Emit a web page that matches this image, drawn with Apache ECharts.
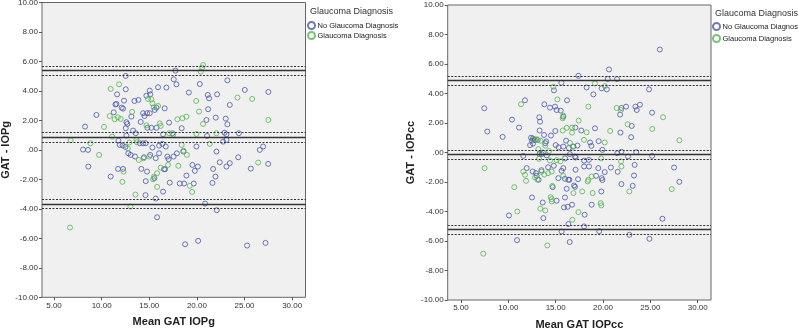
<!DOCTYPE html>
<html>
<head>
<meta charset="utf-8">
<script src="https://cdn.jsdelivr.net/npm/echarts@6/dist/echarts.min.js"></script>
<style>html,body{margin:0;padding:0;background:#fff}#c{width:798px;height:329px}</style>
</head>
<body>
<div id="c"></div>
<script>
// ---------- DATA ----------
const seriesNames = ['No Glaucoma Diagnosis', 'Glaucoma Diagnosis'];
const xTickValues = [5, 10, 15, 20, 25, 30];

// Left panel: GAT - IOPg vs Mean GAT IOPg
const leftNoGlaucoma = [
[8.26,1.58],[8.05,0.02],[8.57,0.0],[9.45,2.37],[8.6,-1.13],
[11.27,2.55],[11.55,3.12],[11.45,3.08],[11.62,3.77],[12.35,3.34],[12.1,2.87],[12.25,2.8],[12.53,4.11],[12.53,5.02],
[12.6,1.88],[12.7,1.76],[12.53,1.47],[13.12,2.26],[13.44,3.32],[13.86,3.39],
[12.6,0.97],[11.76,0.63],[11.9,0.34],[12.2,0.3],[12.5,0.2],[13.3,1.31],[13.58,1.13],[14.0,0.45],[14.35,0.45],
[12.8,-0.23],[13.05,-0.34],[13.5,-0.45],[14.45,-0.5],
[14.7,3.68],[15.05,4.02],[15.1,3.77],[15.57,2.71],[15.75,2.87],[16.62,2.82],[15.92,4.25],[16.8,4.23],
[14.35,2.49],[14.77,2.49],[15.05,2.49],[14.5,2.3],[14.1,1.9],[14.8,1.5],[15.22,1.5],[15.75,1.5],[17.08,1.85],[17.43,1.13],[16.45,1.06],
[14.63,0.45],[15.33,0.16],[16.03,0.29],[16.38,0.41],[16.73,0.23],
[16.9,-0.45],[16.03,-0.23],[15.68,-0.56],[15.1,-0.34],
[17.75,5.38],[17.57,4.79],[17.85,4.45],[19.15,3.89],[20.3,4.47],[18.4,1.47],[19.95,0.23],[18.58,-0.11],[17.9,-0.23],[17.55,-0.45],[17.03,-0.63],
[21.0,2.03],[21.18,2.76],[21.14,3.73],[21.28,3.5],[22.12,3.77],[23.2,4.72],[23.45,3.05],[25.03,4.07],[27.5,3.93],
[21.98,2.19],[23.03,2.12],[23.2,1.74],[22.9,1.17],[23.1,1.06],[21.07,0.95],[22.75,0.56],[23.1,0.68],[24.4,1.13],[22.05,-0.11],[24.34,-0.5],[26.6,0],[26.95,0.23],[27.48,-0.95],[22.4,-0.84],[23.45,-0.9],
[10.95,-1.81],[11.72,-1.29],[12.25,-1.29],[14.17,-1.29],[14.77,-1.47],[14.63,-2.12],[14.6,-3.07],[15.68,-3.3],[15.82,-4.57],[15.54,-1.92],[16.66,-1.31],[16.55,-1.31],[16.45,-2.83],[17.15,-2.22],[18.9,-1.74],[18.2,-2.28],[18.66,-2.28],[19.67,-2.28],[19.78,-1.42],[19.53,-1.02],[20.1,-1.13],[20.86,-3.64],[22.09,-4.09],[18.76,-6.4],[20.13,-6.17],[25.27,-6.49],[27.2,-6.31],[21.63,-2.24],[21.95,-1.81],[21.7,-1.29],[23.1,-1.13],[25.66,-1.27]
];
const leftGlaucoma = [
[6.75,0.66],[8.82,0.45],[9.73,-0.34],[10.25,1.56],[10.95,4.14],[11.83,4.45],[10.85,2.3],[11.7,2.21],[12.0,2.1],[11.37,2.08],[13.2,2.58],[11.1,0.9],[12.75,0.1],[12.9,0.5],[13.65,0.68],[13.7,0.52],[13.9,-0.68],[14.4,-0.57],
[14.87,3.46],[15.22,3.43],[15.33,3.16],[15.47,2.89],[15.92,2.98],[14.7,1.67],[16.1,1.8],[16.2,1.63],[17.08,1.13],[17.5,1.02],[15.0,-0.45],
[19.92,3.32],[20.4,5.31],[20.65,5.76],[20.55,5.58],[17.95,2.08],[18.48,2.15],[18.9,2.26],[19.95,1.08],[18.4,0.34],[18.6,-0.05],[18.95,-0.34],[20.23,2.6],[20.65,1.76],[24.26,3.55],[25.8,3.46],[27.5,2.03],[22.05,1.13],[21.35,0.41],[26.43,-0.86],
[12.3,-1.47],[12.18,-2.17],[13.55,-3.03],[13.02,-3.84],[15.5,-1.81],[15.4,-1.99],[15.82,-1.58],[15.82,-2.51],[6.68,-5.27],[16.2,-1.2],[16.97,-1.02],[18.05,-1.08],[19.25,-2.44],[19.5,-2.85]
];
// limits of agreement lines: solid = bias and limits, dashed = their confidence bounds
const leftSolidLines = [0.86, 5.38, -3.66];
const leftDashedLines = [0.55, 1.17, 5.07, 5.69, -3.35, -3.97];

// Right panel: GAT - IOPcc vs Mean GAT IOPcc
const rightNoGlaucoma = [
[7.46,3.0],[7.78,1.42],[9.4,1.06],[10.39,2.23],[11.13,1.69],[11.76,3.54],[13.27,2.39],[13.35,2.09],[13.8,3.27],[14.4,3.04],[14.93,3.11],[15.1,2.88],[15.53,2.84],[16.2,3.54],[14.82,4.21],[15.6,4.73],[17.4,5.2],[18.27,4.41],[18.98,3.94],[19.86,4.35],[20.4,4.28],[20.5,4.98],[21.48,4.98],[20.63,5.63],[15.8,2.43],[17.08,1.69],[19.15,1.64],[17.7,1.49],[21.8,2.57],[21.94,3.02],[22.43,3.11],[23.42,3.11],[23.56,2.88],[23.9,3.24],[25.18,2.7],[24.86,4.28],[26.0,6.98],[21.84,1.35],[23.03,1.8],[22.97,1.04],[19.54,0.77],[18.63,0.68],[18.77,0.45],[14.96,1.46],[13.3,1.49],[14.5,1.15],[13.77,1.19],
[12.4,1.0],[12.6,0.95],[12.8,0.85],[12.3,0.5],[12.5,0.8],[13.1,0.85],[13.9,0.63],[14.0,0.75],[13.65,0.0],[14.06,-0.2],[13.3,-0.1],[12.6,0.6],
[11.58,-0.23],[13.52,-0.11],[16.1,0.8],[15.8,0.4],[16.87,0.4],[17.3,0.47],[16.5,-0.11],[17.04,-0.27],[17.1,-0.34],[19.93,0.18],[21.51,-0.05],[21.94,0.05],[22.64,-0.27],[23.5,0.02],[25.18,-0.23],
[15.3,0.35],[15.0,0.5],[16.4,0.3],[16.0,-0.4],[18.0,-0.55],[18.5,-0.5],
[10.07,-4.27],[10.92,-5.94],[11.94,-1.06],[12.57,-1.29],[12.92,-1.4],[12.99,-1.58],[13.2,-1.85],[12.5,-3.05],[13.63,-3.39],[13.7,-4.45],[15.1,-3.27],[14.68,-2.35],[15.28,-1.74],[15.63,-1.24],[15.8,-1.06],[15.98,-1.78],[16.34,-1.85],[16.45,-1.85],[16.16,-2.46],[15.98,-3.05],[15.88,-3.72],[16.27,-3.68],[16.73,-3.54],[16.34,-4.85],[18.06,-4.22],[18.0,-5.01],[15.63,-5.35],[16.48,-6.07],[19.6,-5.33],[22.78,-5.58],[24.9,-5.85],[26.27,-4.49],[28.06,-1.99],[27.5,-1.02],[23.13,-2.26],[23.27,-1.56],[21.94,-2.14],[21.55,-1.31],[20.83,-1.02],[23.34,-0.84],[20.18,-1.33],[19.86,-1.74],[19.93,-1.87],[19.26,-1.58],[19.5,-1.06],[18.52,-0.95],[18.0,-0.95],[16.94,-2.24],[17.04,-2.33],[17.1,-1.17],[17.36,-1.81],[19.82,-2.64],[18.8,-3.54],[14.2,-1.0],[13.5,-1.2],[14.8,-0.9]
];
const rightGlaucoma = [
[11.34,3.27],[14.75,4.46],[15.18,3.6],[19.15,4.68],[20.2,4.5],[15.8,2.5],[15.74,2.32],[16.16,1.67],[16.73,1.69],[17.43,2.16],[18.45,3.11],[16.73,1.35],[18.27,1.37],[21.44,3.02],[21.9,2.88],[26.34,2.39],[25.2,1.6],[28.06,0.83],[20.75,1.46],[22.6,1.91],[20.18,0.68],[17.99,0.86],[15.74,1.49],
[12.7,0.9],[13.0,0.9],[13.4,0.8],[13.17,0.23],[13.24,-0.43],[15.1,-0.52],[13.9,0.47],[14.3,0.1],[16.5,0.65],[16.8,0.4],[14.4,-0.55],[15.5,-0.6],[19.8,-0.4],[21.9,-0.6],
[7.5,-1.06],[10.63,-2.35],[10.95,-4.0],[7.36,-6.86],[11.58,-1.29],[11.76,-1.51],[11.87,-1.92],[12.82,-1.69],[13.06,-1.83],[13.5,-1.3],[13.8,-1.5],[14.2,-1.4],[13.38,-3.81],[13.9,-3.93],[14.47,-3.03],[14.58,-3.16],[14.58,-3.32],[14.65,-2.26],[14.58,-1.29],[15.8,-1.58],[16.76,-4.56],[17.4,-4.04],[14.12,-6.3],[27.25,-2.48],[22.78,-2.64],[21.94,-0.95],[18.8,-1.63],[18.45,-1.85],[18.38,-1.96],[18.9,-2.75],[17.8,-2.64],[19.75,-3.43],[19.82,-3.59],[16.87,-2.75]
];
const rightSolidLines = [-0.15, 4.88, -5.22];
const rightDashedLines = [0.17, -0.47, 5.2, 4.55, -4.9, -5.55];

// ---------- CHART ----------
const BLUE = '#4a58a6', GREEN = '#55b54f';
const FONT = 'Liberation Sans, Arial, sans-serif';
const chart = echarts.init(document.getElementById('c'), null, {renderer: 'canvas'});

function markLines(solid, dashed) {
  const d = [];
  solid.forEach(v => d.push({yAxis: v, lineStyle: {type: 'solid', width: 1.4, color: '#333'}}));
  dashed.forEach(v => d.push({yAxis: v, lineStyle: {type: [2, 1.5], width: 1, color: '#333'}}));
  return {silent: true, symbol: 'none', label: {show: false}, animation: false, data: d};
}
function yAxisDef(gridIndex, name) {
  return {
    type: 'value', gridIndex, min: -10, max: 10, interval: 2,
    name, nameLocation: 'middle', nameGap: 31,
    nameTextStyle: {fontFamily: FONT, fontWeight: 'bold', fontSize: 11, color: '#222'},
    axisLine: {show: false, onZero: false}, splitLine: {show: false},
    axisTick: {show: true, length: 3, lineStyle: {color: '#555'}},
    axisLabel: {fontFamily: FONT, fontSize: 8, color: '#333', margin: 4,
      formatter: v => v === 0 ? '.00' : v.toFixed(2)}
  };
}
function xAxisDef(gridIndex, name, min, max) {
  return {
    type: 'value', gridIndex, min, max, position: 'bottom',
    name, nameLocation: 'middle', nameGap: 19,
    nameTextStyle: {fontFamily: FONT, fontWeight: 'bold', fontSize: 11, color: '#222'},
    axisLine: {show: false, onZero: false}, splitLine: {show: false},
    axisTick: {show: true, length: 3, customValues: xTickValues, lineStyle: {color: '#555'}},
    axisLabel: {fontFamily: FONT, fontSize: 8, color: '#333', margin: 4, customValues: xTickValues,
      formatter: v => v.toFixed(2)}
  };
}
function scatter(name, data, color, idx, ml) {
  const s = {
    type: 'scatter', name, data, xAxisIndex: idx, yAxisIndex: idx,
    symbol: 'circle', symbolSize: 5,
    itemStyle: {color: 'rgba(0,0,0,0)', borderColor: color, borderWidth: 1},
    emphasis: {disabled: true}, animation: false, z: 3
  };
  if (ml) s.markLine = ml;
  return s;
}
function legendDef(left, top, gap) {
  return {
    data: seriesNames, orient: 'vertical', left, top, itemGap: gap,
    icon: 'circle', itemWidth: 8, itemHeight: 7,
    textStyle: {fontFamily: FONT, fontSize: 7.5, color: '#222', padding: [0, 0, 0, -3]},
    selectedMode: false, padding: 0
  };
}

chart.setOption({
  backgroundColor: '#fff',
  animation: false,
  title: [
    {text: 'Glaucoma Diagnosis', left: 310, top: 7, padding: 0,
     textStyle: {fontFamily: FONT, fontSize: 9, fontWeight: 'normal', color: '#333'}},
    {text: 'Glaucoma Diagnosis', left: 715, top: 9, padding: 0,
     textStyle: {fontFamily: FONT, fontSize: 9, fontWeight: 'normal', color: '#333'}}
  ],
  legend: [legendDef(307, 21, 1), legendDef(712, 22, 3)],
  grid: [
    {left: 42, top: 2.5, width: 263.5, height: 294.8, outerBoundsMode: 'none', containLabel: false,
     show: true, backgroundColor: '#f0f0f0', borderColor: '#666', borderWidth: 1},
    {left: 447.7, top: 5, width: 263.3, height: 295, outerBoundsMode: 'none', containLabel: false,
     show: true, backgroundColor: '#f0f0f0', borderColor: '#666', borderWidth: 1}
  ],
  xAxis: [xAxisDef(0, 'Mean GAT IOPg', 3.74, 31.4), xAxisDef(1, 'Mean GAT IOPcc', 3.6, 31.4)],
  yAxis: [yAxisDef(0, 'GAT - IOPg'), yAxisDef(1, 'GAT - IOPcc')],
  series: [
    scatter(seriesNames[0], leftNoGlaucoma, BLUE, 0, markLines(leftSolidLines, leftDashedLines)),
    scatter(seriesNames[1], leftGlaucoma, GREEN, 0),
    scatter(seriesNames[0], rightNoGlaucoma, BLUE, 1, markLines(rightSolidLines, rightDashedLines)),
    scatter(seriesNames[1], rightGlaucoma, GREEN, 1)
  ]
});
</script>
</body>
</html>
